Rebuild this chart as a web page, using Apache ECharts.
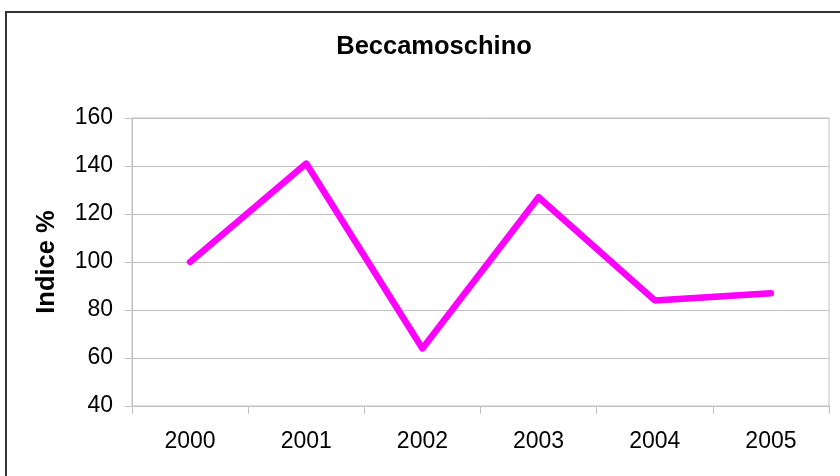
<!DOCTYPE html>
<html>
<head>
<meta charset="utf-8">
<style>
  html, body { margin: 0; padding: 0; background: #fff; }
  #chart { width: 840px; height: 476px; }
</style>
<script src="https://cdn.jsdelivr.net/npm/echarts@6/dist/echarts.min.js"></script>
</head>
<body>
<div id="chart"></div>
<script>
// Annual index values (%) for the Beccamoschino
const years = ['2000', '2001', '2002', '2003', '2004', '2005'];
const indexValues = [100, 141, 64, 127, 84, 87];
const yTicks = { min: 40, max: 160, step: 20 };

const chart = echarts.init(document.getElementById('chart'), null, { renderer: 'canvas' });
const FONT = '"Liberation Sans", Arial, sans-serif';
const GRID_GRAY = '#c0c0c0';

chart.setOption({
  animation: false,
  backgroundColor: '#ffffff',
  title: {
    text: 'Beccamoschino',
    left: 429,
    top: 29,
    textAlign: 'center',
    textStyle: { fontFamily: FONT, fontSize: 25.5, fontWeight: 'bold', color: '#000' }
  },
  graphic: [{
    type: 'rect',
    shape: { x: 6, y: 12, width: 900, height: 500 },
    style: { fill: 'none', stroke: '#333333', lineWidth: 2 },
    silent: true
  }],
  grid: {
    left: 132, right: 11, top: 118, bottom: 70,
    show: true, borderColor: GRID_GRAY, borderWidth: 1
  },
  xAxis: {
    type: 'category',
    data: years,
    boundaryGap: true,
    axisLine: { lineStyle: { color: GRID_GRAY, width: 1 } },
    axisTick: { show: true, alignWithLabel: false, length: 8, lineStyle: { color: GRID_GRAY } },
    axisLabel: { fontFamily: FONT, fontSize: 23, color: '#000', margin: 24 }
  },
  yAxis: {
    type: 'value',
    min: yTicks.min,
    max: yTicks.max,
    interval: yTicks.step,
    name: 'Indice %',
    nameLocation: 'middle',
    nameRotate: 90,
    nameGap: 72,
    nameTextStyle: { fontFamily: FONT, fontSize: 25.5, fontWeight: 'bold', color: '#000' },
    axisLine: { show: true, lineStyle: { color: GRID_GRAY, width: 1 } },
    axisTick: { show: true, length: 7, lineStyle: { color: GRID_GRAY } },
    axisLabel: { fontFamily: FONT, fontSize: 23, color: '#000', margin: 19 },
    splitLine: { show: true, lineStyle: { color: GRID_GRAY, width: 1 } }
  },
  series: [{
    type: 'line',
    data: indexValues,
    symbol: 'none',
    lineStyle: { color: '#ff00ff', width: 6.5, cap: 'round', join: 'round' }
  }]
});
</script>
</body>
</html>
